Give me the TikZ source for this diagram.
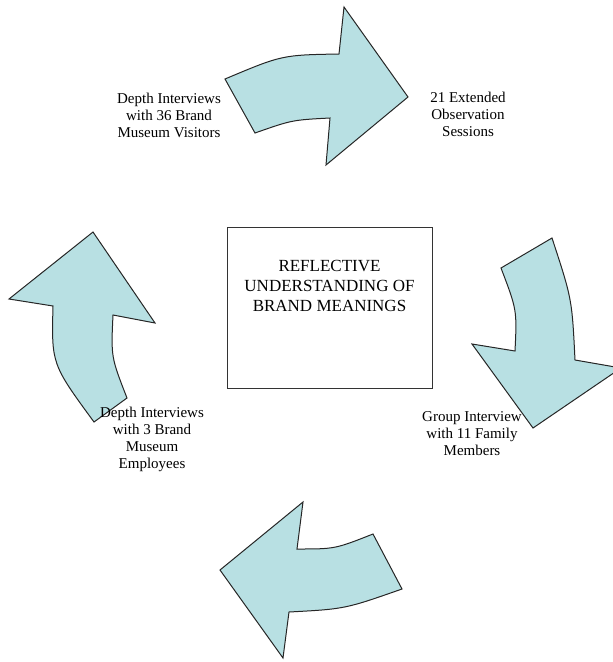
\documentclass[tikz,border=0pt]{standalone}
\usepackage{fontspec}
\setmainfont{Liberation Serif}
\usetikzlibrary{positioning}
\definecolor{arrowFill}{RGB}{184, 224, 227}

\begin{document}
\begin{tikzpicture}[
        x=1pt,
        y=-1pt,
        cycarrow/.style={fill=arrowFill, draw=black!85, line width=1pt, line join=miter},
        steptext/.style={font=\fontsize{15}{17}\selectfont, align=center, text=black, inner sep=0pt},
        corebox/.style={draw=black!80, line width=0.8pt, minimum width=205pt, minimum height=161pt, inner sep=0pt}
    ]
        \clip (0,0) rectangle (613,662);
        \useasboundingbox (0,0) rectangle (613,662);

        % the four curved arrows of the cycle
        \draw[cycarrow] (225,79) .. controls (282,55) .. (339,54) -- (344,7) -- (408,97) -- (326,165) -- (330,118) .. controls (292,120) .. (255,133) -- cycle;
        \draw[cycarrow] (552,238) .. controls (572,299) .. (575,360) -- (621,368) -- (533,428) -- (472,344) -- (515,351) .. controls (517,310) .. (501,268) -- cycle;
        \draw[cycarrow] (402,589) .. controls (345,609) .. (289,612) -- (283,658) -- (220,570) -- (303,502) -- (297,549) .. controls (335,549) .. (373,534) -- cycle;
        \draw[cycarrow] (94,422) .. controls (51.5,364) .. (53,306) -- (9,299) -- (93,232) -- (155,323) -- (113,315) .. controls (111,357) .. (127,398) -- cycle;

        % centre box
        \node[corebox] (core) at (329.5,308) {};
        \node[steptext, font=\fontsize{17}{20}\selectfont, below=33pt of core.north] (coretext) {REFLECTIVE\\UNDERSTANDING OF\\BRAND MEANINGS};

        % steps
        \node[steptext] (visitors) at (169,115) {Depth Interviews\\with 36 Brand\\Museum Visitors};
        \node[steptext] (sessions) at (468,114) {21 Extended\\Observation\\Sessions};
        \node[steptext] (family) at (472,434) {Group Interview\\with 11 Family\\Members};
        \node[steptext] (employees) at (152,439) {Depth Interviews\\with 3 Brand\\Museum\\Employees};
    \end{tikzpicture}
\end{document}
